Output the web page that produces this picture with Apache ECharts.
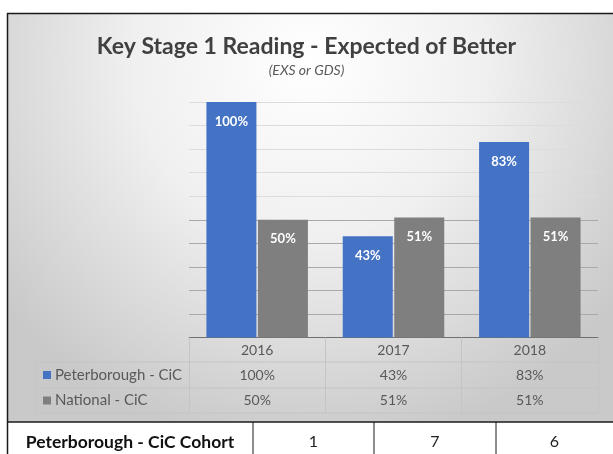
<!DOCTYPE html>
<html>
<head>
<meta charset="utf-8">
<script src="https://cdn.jsdelivr.net/npm/echarts@6/dist/echarts.min.js"></script>
<style>
  html, body { margin: 0; padding: 0; background: #fff; }
  #chart { width: 613px; height: 454px; }
</style>
</head>
<body>
<div id="chart"></div>
<script>
var years = ['2016', '2017', '2018'];
var peterborough = [100, 43, 83];
var national = [50, 51, 51];
var cohort = [1, 7, 6];
var seriesNames = ['Peterborough - CiC', 'National - CiC'];
var seriesColors = ['#4472C4', '#7F7F7F'];
var cohortLabel = 'Peterborough - CiC Cohort';

var font = 'Lato, "Open Sans", sans-serif';
var chart = echarts.init(document.getElementById('chart'));

// split lines: lower half darker like the original
var gridColors = [];
for (var i = 0; i <= 10; i++) {
    gridColors.push(i <= 5 ? '#a9a9a9' : '#dcdcdc');
}

var barLabel = {
    show: true,
    position: 'insideTop',
    distance: 13,
    color: '#fff',
    fontWeight: 'bold',
    fontSize: 13,
    fontFamily: font,
    formatter: '{c}%'
};

chart.setOption({
    animation: false,
    title: {
        text: 'Key Stage 1 Reading - Expected of Better',
        subtext: '(EXS or GDS)',
        left: 'center',
        top: 30,
        itemGap: 5,
        textStyle: { fontFamily: font, fontSize: 23, fontWeight: 'bold', color: '#404040' },
        subtextStyle: { fontFamily: font, fontSize: 14, fontStyle: 'italic', color: '#595959' }
    },
    grid: { left: 189, right: 15, top: 102, bottom: 116.5 },
    xAxis: {
        type: 'category',
        data: years,
        axisLine: { lineStyle: { color: '#6f6f6f', width: 1 } },
        axisTick: { show: true, inside: false, length: 76, lineStyle: { color: '#c4c4c4' } },
        axisLabel: { margin: 6, color: '#595959', fontSize: 14, fontFamily: font }
    },
    yAxis: {
        type: 'value',
        min: 0,
        max: 100,
        interval: 10,
        axisLabel: { show: false },
        axisLine: { show: false },
        axisTick: { show: false },
        splitLine: { lineStyle: { color: gridColors } }
    },
    series: [
        {
            name: seriesNames[0],
            type: 'bar',
            data: peterborough,
            barWidth: 50,
            barGap: '3%',
            itemStyle: { color: seriesColors[0] },
            label: barLabel
        },
        {
            name: seriesNames[1],
            type: 'bar',
            data: national,
            barWidth: 50,
            itemStyle: { color: seriesColors[1] },
            label: barLabel
        }
    ]
});

// data table + cohort row, placed from the category axis
var right = 598;
var rowTop = [362, 388, 413];
var g = [];

g.push({
    type: 'rect', z: -10, silent: true,
    shape: { x: 7, y: 13, width: 606, height: 409 },
    style: {
        fill: new echarts.graphic.RadialGradient(0.5, 0.12, 0.95, [
            { offset: 0, color: '#ffffff' },
            { offset: 0.45, color: '#f0f0f0' },
            { offset: 1, color: '#c9c9c9' }
        ])
    }
});
g.push({
    type: 'rect', z: -10, silent: true,
    shape: { x: 7, y: 422, width: 606, height: 32 },
    style: { fill: '#ffffff' }
});

var tl = '#c4c4c4';
g.push({ type: 'line', shape: { x1: 36, y1: rowTop[0], x2: right, y2: rowTop[0] }, style: { stroke: tl } });
g.push({ type: 'line', shape: { x1: 36, y1: rowTop[1], x2: right, y2: rowTop[1] }, style: { stroke: tl } });
g.push({ type: 'line', shape: { x1: 36, y1: rowTop[2], x2: right, y2: rowTop[2] }, style: { stroke: tl } });
g.push({ type: 'line', shape: { x1: 36, y1: rowTop[0], x2: 36, y2: rowTop[2] }, style: { stroke: tl } });

var rows = [peterborough, national];
for (var r = 0; r < 2; r++) {
    var cy = (rowTop[r] + rowTop[r + 1]) / 2;
    g.push({
        type: 'rect',
        shape: { x: 43, y: cy - 4, width: 8, height: 8 },
        style: { fill: seriesColors[r] }
    });
    g.push({
        type: 'text',
        style: {
            text: seriesNames[r], x: 55, y: cy,
            textVerticalAlign: 'middle', textAlign: 'left',
            font: '15px ' + font, fill: '#595959'
        }
    });
    for (var c = 0; c < years.length; c++) {
        var px = chart.convertToPixel({ xAxisIndex: 0 }, years[c]);
        g.push({
            type: 'text',
            style: {
                text: rows[r][c] + '%', x: px, y: cy,
                textVerticalAlign: 'middle', textAlign: 'center',
                font: '14px ' + font, fill: '#595959'
            }
        });
    }
}

// cohort row
var cohortCells = [[7, 253], [253, 374], [374, 496], [496, 613]];
g.push({ type: 'line', shape: { x1: 7, y1: 422, x2: 613, y2: 422 }, style: { stroke: '#1a1a1a', lineWidth: 1.5 } });
for (var k = 1; k < cohortCells.length; k++) {
    g.push({ type: 'line', shape: { x1: cohortCells[k][0], y1: 422, x2: cohortCells[k][0], y2: 454 }, style: { stroke: '#1a1a1a', lineWidth: 1 } });
}
g.push({
    type: 'text',
    style: {
        text: cohortLabel, x: 130, y: 442,
        textAlign: 'center', textVerticalAlign: 'middle',
        font: 'bold 17.5px ' + font, fill: '#111'
    }
});
for (var n = 0; n < cohort.length; n++) {
    g.push({
        type: 'text',
        style: {
            text: String(cohort[n]), x: (cohortCells[n + 1][0] + cohortCells[n + 1][1]) / 2, y: 442,
            textAlign: 'center', textVerticalAlign: 'middle',
            font: '16px ' + font, fill: '#222'
        }
    });
}

// outer frame
g.push({ type: 'line', shape: { x1: 7.5, y1: 13, x2: 7.5, y2: 454 }, style: { stroke: '#1a1a1a', lineWidth: 1.5 } });
g.push({ type: 'line', shape: { x1: 7, y1: 13.5, x2: 613, y2: 13.5 }, style: { stroke: '#1a1a1a', lineWidth: 1.5 } });

chart.setOption({ graphic: g });
</script>
</body>
</html>
